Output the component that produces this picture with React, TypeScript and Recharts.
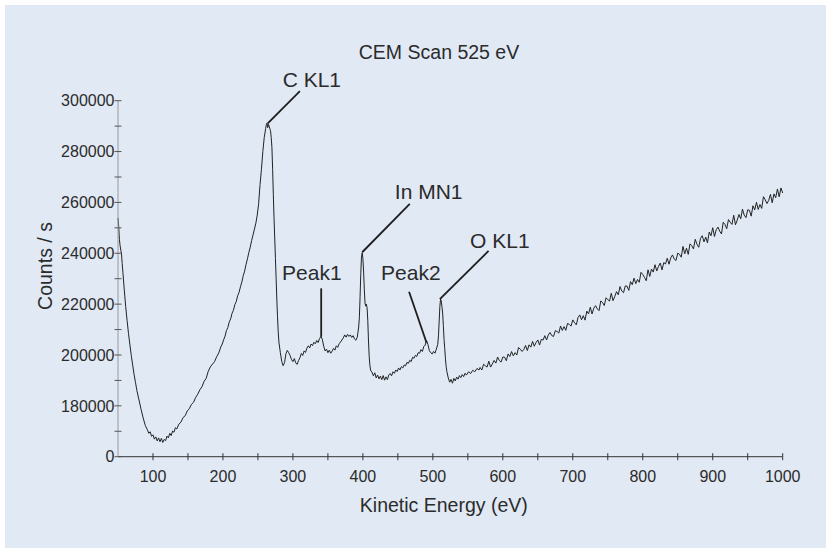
import React from 'react';
import { LineChart, Line, XAxis, YAxis, ReferenceLine, ReferenceDot } from 'recharts';

const FONT = '"Liberation Sans", Arial, Helvetica, sans-serif';
const TEXT = '#2b2b2b';
const BG = '#e1e9f5';

// [kinetic energy (eV), counts / s]
const lowTail: [number, number][] = [
  [50, 253900], [51, 250500], [52, 245500], [53, 243000], [54, 241200], [55, 239800], [56, 236000],
  [57, 232500], [59, 225500], [61, 219000], [63, 213500], [65, 208500], [67, 204000], [69, 199800],
  [71, 196000], [73, 192300], [75, 189200], [77, 186000], [80, 182300], [83, 178600], [86, 175200],
  [89, 172300], [92, 170600], [94, 169200], [96, 169800], [98, 168000], [100, 168600], [102, 166900],
  [104, 167800], [106, 166200], [108, 167400], [110, 165900], [112, 167200], [114, 165600], [116, 166800],
  [118, 166300], [120, 168100], [122, 167400], [124, 169200], [126, 168300], [128, 170100], [130, 169600],
  [132, 171400], [134, 170900], [137, 172800], [140, 173600], [143, 175400], [146, 176100], [149, 178000],
  [152, 178900], [155, 180600], [158, 181400], [161, 183300], [164, 184600], [167, 186300], [170, 187500],
  [173, 189600], [176, 190800], [179, 193600], [182, 195300], [185, 196400], [188, 197400], [191, 199300],
  [194, 200800], [197, 203200], [199, 204300],
];

const carbonPeak: [number, number][] = [
  [201, 206000], [203, 207400], [205, 209600], [207, 210800], [209, 213000], [211, 214200], [213, 216400],
  [215, 217600], [217, 219800], [219, 221000], [221, 223300], [223, 224600], [225, 226800], [227, 228700],
  [229, 231200], [231, 233000], [233, 235600], [235, 237800], [237, 240300], [239, 242400], [241, 245000],
  [243, 247200], [245, 249500], [247, 251800], [249, 255000], [251, 259500], [253, 267000], [255, 273000],
  [257, 280000], [259, 285500], [261, 289000], [262, 290600], [263, 291200], [264, 289400], [265, 290700],
  [266, 290000], [267, 289000], [268, 288200], [269, 285500], [270, 281500], [271, 273000], [272, 263000],
  [273, 254000], [274, 246000], [275, 238000], [276, 230000], [277, 222000], [278, 215000], [279, 209000],
  [280, 205000], [282, 201000], [284, 197500], [286, 195800],
];

const midRegion: [number, number][] = [
  [288, 197000], [290, 200500], [292, 201800], [294, 200900], [296, 199800], [298, 198200], [300, 197400],
  [302, 198600], [304, 196900], [306, 196300], [308, 197800], [310, 198900], [312, 200600], [314, 199800],
  [316, 201600], [318, 201000], [320, 202700], [322, 203600], [324, 202800], [326, 204300], [328, 203700],
  [330, 205000], [332, 204400], [334, 205700], [336, 204900], [338, 206400], [340, 207300], [342, 206200],
  [344, 203400], [346, 201600], [348, 202300], [350, 200900], [352, 201900], [354, 200700], [356, 201500],
  [358, 202600], [360, 201900], [362, 203600], [364, 203000], [366, 204400], [368, 205100], [370, 205900],
  [372, 206700], [374, 207900], [376, 207000], [378, 208100], [380, 207300], [382, 207900], [384, 206900],
  [386, 207600], [388, 206300], [390, 205800], [392, 207000], [394, 211000],
];

const indiumPeak: [number, number][] = [
  [395, 215000], [396, 223000], [397, 232000], [398, 238500], [399, 240200], [400, 238000], [401, 233000],
  [402, 226000], [403, 220500], [404, 219200], [405, 220000], [406, 218600], [407, 213500], [408, 205500],
  [409, 199500], [410, 196000], [411, 194000], [413, 193200], [415, 191800], [417, 193000], [419, 191000],
];

const midTail: [number, number][] = [
  [421, 192100], [423, 190600], [425, 191700], [427, 190300], [429, 191900], [431, 190100], [433, 191400],
  [435, 190300], [437, 192100], [439, 192700], [441, 191800], [443, 193400], [445, 192800], [447, 194100],
  [449, 193500], [451, 194900], [453, 194100], [455, 195400], [457, 194900], [459, 196100], [461, 195700],
  [463, 197100], [465, 196700], [467, 197900], [469, 197400], [471, 199100], [473, 198700], [475, 199900],
  [477, 199400], [479, 200900], [481, 200700], [483, 202100], [485, 201400], [487, 203300], [489, 203900],
  [491, 205600], [493, 204100], [495, 201700], [497, 200900], [499, 200400], [501, 201400], [503, 200700],
  [505, 202300], [507, 204200],
];

const oxygenPeak: [number, number][] = [
  [508, 207500], [509, 213000], [510, 219000], [511, 222000], [512, 221200], [513, 219000], [514, 216500],
  [515, 211500], [516, 206000], [517, 202500], [518, 198500], [519, 195500], [520, 193500], [522, 191000],
  [524, 189300], [526, 190400], [528, 188900], [530, 190800], [532, 189800], [534, 191300], [536, 190500],
  [538, 191900], [540, 191100], [542, 192300], [544, 191500], [546, 192800], [548, 192100], [551, 193400],
  [554, 192700], [557, 194000], [560, 193400], [563, 194700], [566, 194100],
];

const highTail: [number, number][] = [
  [567.5, 195100], [570, 194100], [572.5, 196350], [575, 195750], [577.5, 195250], [580, 197550],
  [582.5, 195250], [585, 196450], [587.5, 197850], [590, 196800], [592.5, 199200], [595, 197800],
  [597.5, 197200], [600, 199200], [602.5, 199150], [605, 197750], [607.5, 200400], [610, 199400],
  [612.5, 201350], [615, 199650], [617.5, 200900], [620, 200000], [622.5, 202950], [625, 202250],
  [627.5, 201400], [630, 202200], [632.5, 203750], [635, 201750], [637.5, 204000], [640, 203100],
  [642.5, 205350], [645, 203450], [647.5, 204900], [650, 205900], [652.5, 203900], [655, 206150],
  [657.5, 205850], [660, 207600], [662.5, 205900], [665, 207850], [667.5, 208850], [670, 207600],
  [672.5, 207300], [675, 209550], [677.5, 209250], [680, 208600], [682.5, 211400], [685, 209650],
  [687.5, 211150], [690, 209700], [692.5, 212400], [695, 212050], [697.5, 211350], [700, 213800],
  [702.5, 212700], [705, 211850], [707.5, 214750], [710, 215750], [712.5, 213850], [715, 215450],
  [717.5, 213700], [720, 217250], [722.5, 216150], [725, 218800], [727.5, 216150], [730, 218400],
  [732.5, 219400], [735, 218150], [737.5, 217450], [740, 221250], [742.5, 220650], [745, 219450],
  [747.5, 222500], [750, 221750], [752.5, 221200], [755, 224250], [757.5, 221350], [760, 223000],
  [762.5, 224900], [765, 223700], [767.5, 226900], [770, 225150], [772.5, 224500], [775, 227150],
  [777.5, 227100], [780, 225400], [782.5, 228850], [785, 227650], [787.5, 230200], [790, 228050],
  [792.5, 229700], [795, 228600], [797.5, 232500], [800, 231650], [802.5, 230500], [805, 229200],
  [807.5, 233500], [810, 230900], [812.5, 233800], [815, 232600], [817.5, 235500], [820, 233050],
  [822.5, 234850], [825, 236150], [827.5, 233450], [830, 236300], [832.5, 235800], [835, 238050],
  [837.5, 235700], [840, 238200], [842.5, 239350], [845, 237700], [847.5, 237150], [850, 240050],
  [852.5, 239600], [855, 238450], [857.5, 242700], [860, 239800], [862.5, 242000], [865, 239550],
  [867.5, 243700], [870, 243000], [872.5, 241700], [875, 245500], [877.5, 243500], [880, 242350],
  [882.5, 245850], [885, 246900], [887.5, 244500], [890, 246350], [892.5, 244100], [895, 248350],
  [897.5, 246900], [900, 250050], [902.5, 246600], [905, 249250], [907.5, 250300], [910, 248650],
  [912.5, 247600], [915, 252200], [917.5, 251300], [920, 249650], [922.5, 253250], [925, 252200],
  [927.5, 251350], [930, 254950], [932.5, 251200], [935, 253050], [937.5, 255250], [940, 253550],
  [942.5, 257350], [945, 255000], [947.5, 254000], [950, 257100], [952.5, 256900], [955, 254600],
  [957.5, 258700], [960, 257050], [962.5, 260050], [965, 257250], [967.5, 259150], [970, 257650],
  [972.5, 262250], [975, 261050], [977.5, 259550], [980, 260800], [982.5, 263150], [985, 259850],
  [987.5, 263350], [990, 261850], [992.5, 265300], [995, 262200], [997.5, 265700], [1000, 263700],
];

const xTicks = [100, 150, 200, 250, 300, 350, 400, 450, 500, 550, 600, 650, 700, 750, 800, 850, 900, 950, 1000];
const yTicks = [160000, 170000, 180000, 190000, 200000, 210000, 220000, 230000, 240000, 250000, 260000, 270000, 280000, 290000, 300000];
// the axis is broken: its lowest tick stands for zero
const yLabels: Record<number, string> = {
  160000: '0', 180000: '180000', 200000: '200000', 220000: '220000',
  240000: '240000', 260000: '260000', 280000: '280000', 300000: '300000',
};

const annotations = [
  { text: 'C KL1', at: [327, 308300], from: [310, 303800], to: [264, 291100] },
  { text: 'In MN1', at: [494, 264300], from: [467, 259400], to: [399, 240400] },
  { text: 'Peak1', at: [327, 232600], from: [340.4, 226200], to: [340.4, 207200] },
  { text: 'Peak2', at: [468.6, 232600], from: [466, 224900], to: [491, 204800] },
  { text: 'O KL1', at: [595.7, 245000], from: [579.6, 240900], to: [510, 222000] },
];

const spectrum = [...lowTail, ...carbonPeak, ...midRegion, ...indiumPeak, ...midTail, ...oxygenPeak, ...highTail]
  .map(([energy, counts]) => ({ energy, counts }));

const XTick = (props: any) => {
  const { x, y, payload } = props;
  const v = payload.value;
  return (
    <g>
      <line x1={x} x2={x} y1={y - 3.5} y2={y + 3.5} stroke="#333" strokeWidth={1} />
      {v % 100 === 0 && (
        <text x={x} y={y + 25.5} textAnchor="middle" fontSize={16} fontFamily={FONT} fill={TEXT}>{v}</text>
      )}
    </g>
  );
};

const YTick = (props: any) => {
  const { x, y, payload } = props;
  const label = yLabels[payload.value];
  return (
    <g>
      <line x1={x - 3.5} x2={x + 3.5} y1={y} y2={y} stroke="#555" strokeWidth={1} />
      {label !== undefined && (
        <text x={x - 3.5} y={y + 5.7} textAnchor="end" fontSize={16} fontFamily={FONT} fill={TEXT}>{label}</text>
      )}
    </g>
  );
};

export default function App() {
  return (
    <div style={{ position: 'absolute', left: 5, top: 5, width: 821, height: 543, background: BG }}>
      <LineChart
        width={821}
        height={543}
        data={spectrum}
        margin={{ top: 95.7, right: 43.3, bottom: 0, left: 0 }}
        style={{ fontFamily: FONT }}
      >
        <XAxis
          dataKey="energy"
          type="number"
          domain={[50, 1000]}
          ticks={xTicks}
          interval={0}
          height={91.3}
          tickSize={0}
          tickMargin={0}
          tickLine={false}
          axisLine={{ stroke: '#333', strokeWidth: 1 }}
          tick={<XTick />}
        />
        <YAxis
          type="number"
          domain={[160000, 300000]}
          allowDataOverflow
          ticks={yTicks}
          interval={0}
          width={113}
          tickSize={0}
          tickMargin={0}
          tickLine={false}
          axisLine={{ stroke: '#9a9a9a', strokeWidth: 1 }}
          tick={<YTick />}
        />
        <Line
          dataKey="counts"
          type="linear"
          stroke="#222"
          strokeWidth={1}
          dot={false}
          isAnimationActive={false}
        />
        {annotations.map((a) => (
          <ReferenceLine
            key={'l' + a.text}
            segment={[{ x: a.from[0], y: a.from[1] }, { x: a.to[0], y: a.to[1] }]}
            stroke="#1e1e1e"
            strokeWidth={1.8}
            ifOverflow="visible"
          />
        ))}
        {annotations.map((a) => (
          <ReferenceDot
            key={'t' + a.text}
            x={a.at[0]}
            y={a.at[1]}
            r={0}
            fill="none"
            stroke="none"
            ifOverflow="visible"
            label={{ value: a.text, position: 'center', fontSize: 21, fill: TEXT, fontFamily: FONT }}
          />
        ))}
        <text x={434} y={53.7} textAnchor="middle" fontSize={19.5} fontFamily={FONT} fill={TEXT}>CEM Scan 525 eV</text>
        <text x={438.8} y={507} textAnchor="middle" fontSize={19.5} fontFamily={FONT} fill={TEXT}>Kinetic Energy (eV)</text>
        <text x={47.3} y={261} textAnchor="middle" fontSize={19.5} fontFamily={FONT} fill={TEXT} transform="rotate(-90 47.3 261)">Counts / s</text>
      </LineChart>
    </div>
  );
}
